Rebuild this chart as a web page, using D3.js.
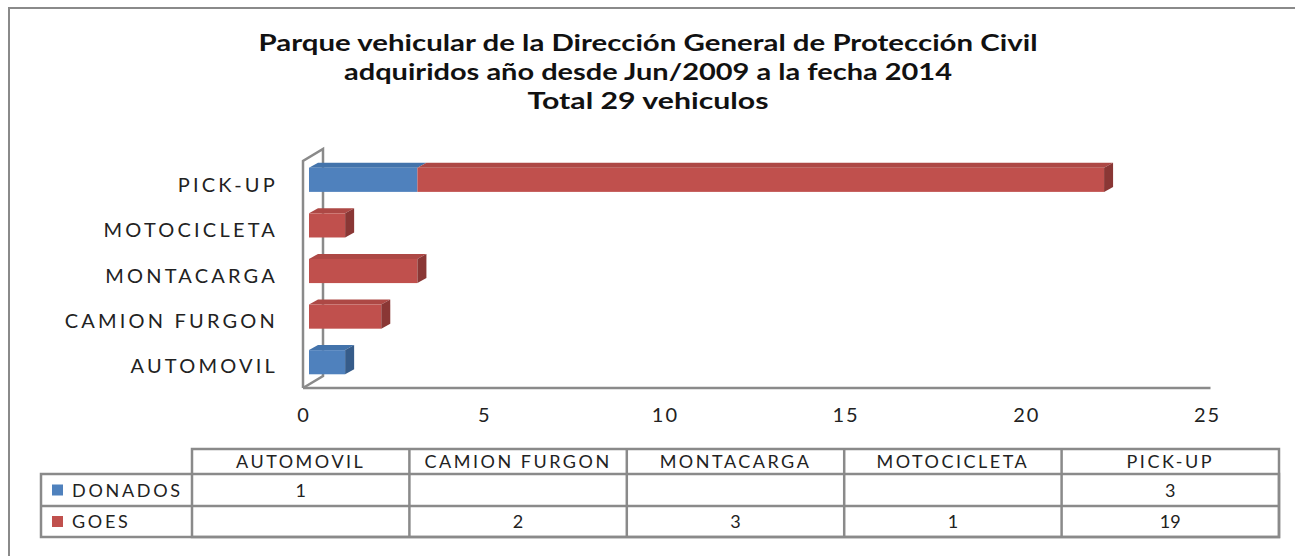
<!DOCTYPE html>
<html>
<head>
<meta charset="utf-8">
<script src="https://cdn.jsdelivr.net/npm/d3@7"></script>
<style>
  body { margin: 0; background: #fff; }
  text { font-family: Lato, "Open Sans", sans-serif; }
</style>
</head>
<body>
<div id="chart"></div>
<script>
// data
const categories = ["AUTOMOVIL", "CAMION FURGON", "MONTACARGA", "MOTOCICLETA", "PICK-UP"];
const donados = [1, null, null, null, 3];
const goes = [null, 2, 3, 1, 19];
const seriesNames = ["DONADOS", "GOES"];
const xTicks = [0, 5, 10, 15, 20, 25];
const titleLines = [
    "Parque vehicular de la Dirección General de Protección Civil",
    "adquiridos año desde Jun/2009 a la fecha 2014",
    "Total 29 vehiculos"
];

const width = 1295, height = 556;
const blue = "#4f81bd", red = "#c0504d";
const colors = [blue, red];
const tops = ["#4373ab", "#ad4845"];
const sides = ["#365c8a", "#8a3735"];
const gridGrey = "#8a8a8a";

const svg = d3.select("#chart").append("svg")
    .attr("width", width)
    .attr("height", height);

// outer frame
svg.append("rect")
    .attr("x", 9).attr("y", 8)
    .attr("width", 1310).attr("height", 560)
    .attr("fill", "none")
    .attr("stroke", gridGrey)
    .attr("stroke-width", 2);

// title
const titleW = [779, 608, 241];
svg.selectAll(".title")
    .data(titleLines)
    .enter().append("text")
    .attr("class", "title")
    .attr("x", 648)
    .attr("y", (d, i) => 51 + i * 29)
    .attr("text-anchor", "middle")
    .attr("font-size", 22)
    .attr("font-weight", "bold")
    .attr("fill", "#111")
    .attr("textLength", (d, i) => titleW[i])
    .attr("lengthAdjust", "spacingAndGlyphs")
    .text(d => d);

// scales
const x = d3.scaleLinear().domain([0, 25]).range([309, 1212.5]);
const order = categories.slice().reverse(); // PICK-UP on top
const y = d3.scaleBand().domain(order).range([157, 385])
    .paddingInner(0.47).paddingOuter(0.235);
const yFront = d3.scaleBand().domain(order).range([161, 388]);

const dx = 9, dy = 5;    // bar depth
const wx = 20, wy = 12;  // wall depth

// side wall and floor line
const wall = svg.append("g")
    .attr("fill", "none")
    .attr("stroke", gridGrey)
    .attr("stroke-width", 2.5);
wall.append("path")
    .attr("d", `M303,388 L303,161 L${303 + wx},${161 - wy} L${303 + wx},${388 - wy} L303,388`);
wall.append("line")
    .attr("x1", 303).attr("x2", x(25) - 2)
    .attr("y1", 388).attr("y2", 388);

// stacked segments
const segs = [];
categories.forEach((c, i) => {
    let start = 0;
    [donados[i], goes[i]].forEach((v, s) => {
        if (v) {
            segs.push({cat: c, s: s, x0: start, x1: start + v, last: false});
            start += v;
        }
    });
    segs[segs.length - 1].last = true;
});

const bars = svg.append("g");
segs.forEach(d => {
    const X0 = x(d.x0), X1 = x(d.x1);
    const Y0 = y(d.cat), Y1 = y(d.cat) + y.bandwidth();
    bars.append("path")
        .attr("d", `M${X0},${Y0} L${X0 + dx},${Y0 - dy} L${X1 + dx},${Y0 - dy} L${X1},${Y0} Z`)
        .attr("fill", tops[d.s]);
    bars.append("rect")
        .attr("x", X0).attr("y", Y0)
        .attr("width", X1 - X0).attr("height", Y1 - Y0)
        .attr("fill", colors[d.s]);
    if (d.last) {
        bars.append("path")
            .attr("d", `M${X1},${Y0} L${X1 + dx},${Y0 - dy} L${X1 + dx},${Y1 - dy} L${X1},${Y1} Z`)
            .attr("fill", sides[d.s]);
    }
});

// category labels
svg.selectAll(".cat")
    .data(categories)
    .enter().append("text")
    .attr("class", "cat")
    .attr("x", 278)
    .attr("y", d => yFront(d) + yFront.bandwidth() / 2 + 8)
    .attr("text-anchor", "end")
    .attr("font-size", 20)
    .attr("letter-spacing", 3.2)
    .attr("fill", "#222")
    .text(d => d);

// x tick labels
svg.selectAll(".tick")
    .data(xTicks)
    .enter().append("text")
    .attr("class", "tick")
    .attr("x", d => x(d) - 5)
    .attr("y", 422)
    .attr("text-anchor", "middle")
    .attr("font-size", 20)
    .attr("letter-spacing", 2)
    .attr("fill", "#222")
    .text(d => d);

// data table
const tLeft = 41, tColStart = 192, tRight = 1279;
const colW = (tRight - tColStart) / categories.length;
const rowY = [449, 474, 506, 537];
const tbl = svg.append("g");
const lineAttr = sel => sel.attr("stroke", gridGrey).attr("stroke-width", 2.5).attr("fill", "none");

tbl.append("rect").call(lineAttr)
    .attr("x", tColStart).attr("y", rowY[0])
    .attr("width", tRight - tColStart).attr("height", rowY[3] - rowY[0]);
tbl.append("rect").call(lineAttr)
    .attr("x", tLeft).attr("y", rowY[1])
    .attr("width", tRight - tLeft).attr("height", rowY[3] - rowY[1]);
tbl.append("line").call(lineAttr)
    .attr("x1", tLeft).attr("x2", tRight)
    .attr("y1", rowY[2]).attr("y2", rowY[2]);
categories.forEach((c, i) => {
    if (i > 0) {
        tbl.append("line").call(lineAttr)
            .attr("x1", tColStart + i * colW).attr("x2", tColStart + i * colW)
            .attr("y1", rowY[0]).attr("y2", rowY[3]);
    }
});

// header
tbl.selectAll(".hdr")
    .data(categories)
    .enter().append("text")
    .attr("class", "hdr")
    .attr("x", (d, i) => tColStart + colW * (i + 0.5))
    .attr("y", (rowY[0] + rowY[1]) / 2 + 6.5)
    .attr("text-anchor", "middle")
    .attr("font-size", 18)
    .attr("letter-spacing", 2.5)
    .attr("fill", "#222")
    .text(d => d);

// rows
[donados, goes].forEach((vals, r) => {
    const cy = (rowY[r + 1] + rowY[r + 2]) / 2;
    tbl.append("rect")
        .attr("x", 52).attr("y", cy - 5.5)
        .attr("width", 11).attr("height", 11)
        .attr("fill", colors[r]);
    tbl.append("text")
        .attr("x", 72).attr("y", cy + 6.5)
        .attr("font-size", 18)
        .attr("letter-spacing", 2.7)
        .attr("fill", "#222")
        .text(seriesNames[r]);
    tbl.selectAll(".v" + r)
        .data(vals)
        .enter().append("text")
        .attr("class", "v" + r)
        .attr("x", (d, i) => tColStart + colW * (i + 0.5))
        .attr("y", cy + 6.5)
        .attr("text-anchor", "middle")
        .attr("font-size", 18)
        .attr("fill", "#222")
        .text(d => d == null ? "" : d);
});
</script>
</body>
</html>
